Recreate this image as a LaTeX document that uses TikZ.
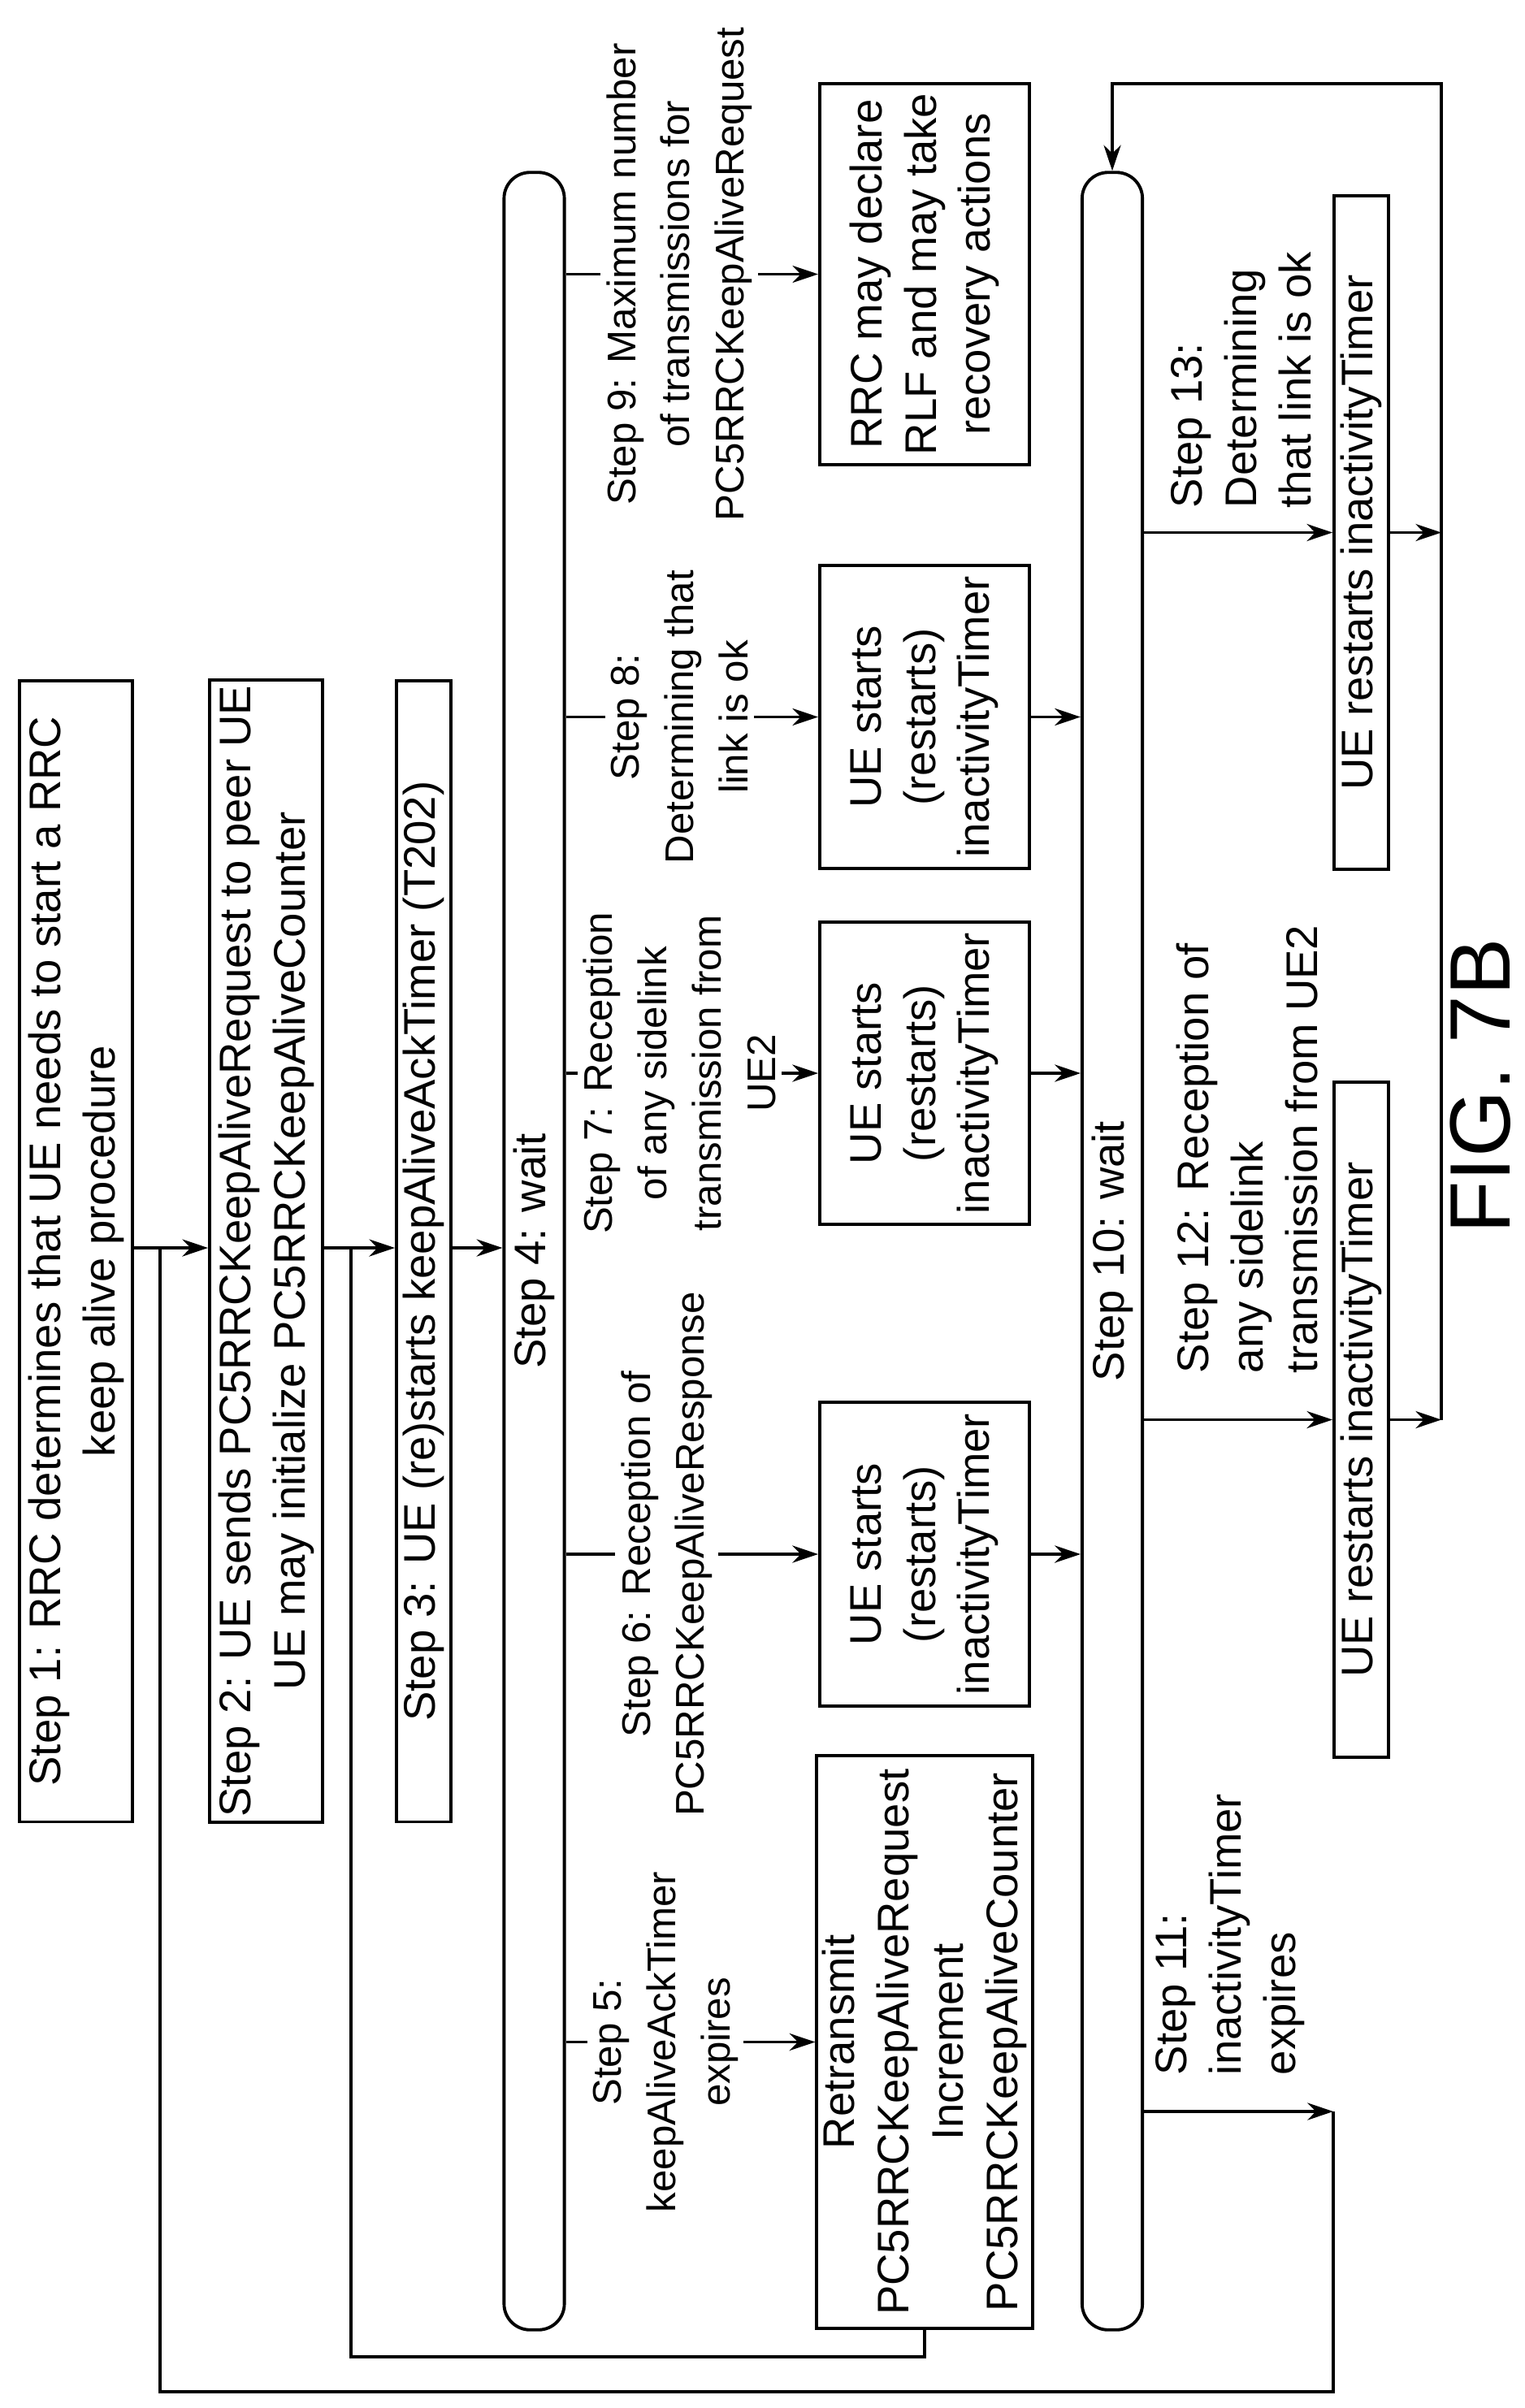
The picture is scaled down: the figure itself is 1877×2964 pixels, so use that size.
\documentclass[tikz,border=0pt]{standalone}
\usepackage{fontspec}
\setmainfont{Liberation Sans}
\usetikzlibrary{arrows.meta, positioning, calc}

\begin{document}
\begin{tikzpicture}[
  x=0.01cm, y=-0.01cm,
  line width=1.1pt,
  every node/.style={font=\fontsize{15.5}{19}\selectfont},
  stepbox/.style={rectangle, draw, rotate=90, align=center, inner sep=2pt, minimum height=#1},
  waitbar/.style={rectangle, draw, rotate=90, rounded corners=0.32cm, minimum height=0.65cm, minimum width=26.54cm},
  steplabel/.style={rotate=90, align=center, fill=white, inner sep=2pt, font=\fontsize{14}{19}\selectfont},
  sidelabel/.style={rotate=90, align=left, anchor=west, inner sep=0pt},
  arr/.style={-{Stealth[length=9pt, width=6pt]}},
]
\useasboundingbox (0,0) rectangle (1877,2964);

% Left column: steps 1 to 3
\node[stepbox=1.39cm, minimum width=14.04cm] (s1) at (93.5,1540) {Step 1: RRC determines that UE needs to start a RRC\\keep alive procedure};
\node[stepbox=1.39cm, minimum width=14.04cm] (s2) at (327.5,1540) {Step 2: UE sends PC5RRCKeepAliveRequest to peer UE\\UE may initialize PC5RRCKeepAliveCounter};
\node[stepbox=0.67cm, minimum width=14.04cm] (s3) at (521.5,1540) {Step 3: UE (re)starts keepAliveAckTimer (T202)};

% Wait bars
\node[waitbar] (s4) at (657.5,1540) {Step 4: wait};
\node[waitbar] (s10) at (1369,1540) {Step 10: wait};

% Middle column
\node[stepbox=2.58cm, minimum width=4.69cm] (b9) at (1138,337.5) {RRC may declare\\RLF and may take\\recovery actions};
\node[stepbox=2.58cm, minimum width=3.73cm] (b8) at (1138,882.5) {UE starts\\(restarts)\\inactivityTimer};
\node[stepbox=2.58cm, minimum width=3.72cm] (b7) at (1138,1321) {UE starts\\(restarts)\\inactivityTimer};
\node[stepbox=2.58cm, minimum width=3.74cm] (b6) at (1138,1913) {UE starts\\(restarts)\\inactivityTimer};
\node[stepbox=2.58cm, minimum width=7.05cm] (b5) at (1138,2513.5) {Retransmit\\PC5RRCKeepAliveRequest\\Increment\\PC5RRCKeepAliveCounter};

% Right column
\node[stepbox=0.67cm, minimum width=8.29cm] (u13) at (1675.5,655.5) {UE restarts inactivityTimer};
\node[stepbox=0.67cm, minimum width=8.31cm] (u12) at (1675.5,1747.5) {UE restarts inactivityTimer};

\coordinate (lvl) at (0,1536);
\coordinate (c11) at (1641,2599);
\coordinate (loopA) at (197,2944);
\coordinate (loopB) at (432,2901);
\coordinate (rtop) at (1774,103);

% Flow through steps 1-4
\draw[arr] (s1.south |- lvl) -- (s2.north |- lvl);
\draw[arr] (s2.south |- lvl) -- (s3.north |- lvl);
\draw[arr] (s3.south |- lvl) -- (s4.north |- lvl);

% Branches out of step 4
\draw[arr] (s4.south |- b9.center) -- node[steplabel, pos=0.45] {Step 9: Maximum number\\of transmissions for\\PC5RRCKeepAliveRequest} (b9);
\draw[arr] (s4.south |- b8.center) -- node[steplabel, pos=0.45] {Step 8:\\Determining that\\link is ok} (b8);
\draw[arr] (s4.south |- b7.center) -- node[steplabel, pos=0.45] {Step 7: Reception\\of any sidelink\\transmission from\\UE2} (b7);
\draw[arr] (s4.south |- b6.center) -- node[steplabel, pos=0.4] {Step 6: Reception of\\PC5RRCKeepAliveResponse} (b6);
\draw[arr] (s4.south |- b5.center) -- node[steplabel, pos=0.4] {Step 5:\\keepAliveAckTimer\\expires} (b5);

\draw[arr] (b8) -- (s10.north |- b8.center);
\draw[arr] (b7) -- (s10.north |- b7.center);
\draw[arr] (b6) -- (s10.north |- b6.center);

% Retransmission loop back to step 3
\draw (b5.west) |- (loopB) -- (loopB |- lvl);

% Branches out of step 10
\draw[arr] (s10.south |- u13.center) -- (u13);
\draw[arr] (s10.south |- u12.center) -- (u12);
\draw[arr] (s10.south |- c11) -- (c11);
\node[sidelabel] (l13) at (1528,627) {Step 13:\\Determining\\that link is ok};
\node[sidelabel] (l12) at (1535,1692) {Step 12: Reception of\\any sidelink\\transmission from UE2};
\node[sidelabel] (l11) at (1514,2556) {Step 11:\\inactivityTimer\\expires};

\draw[arr] (u13) -- (rtop |- u13.center);
\draw[arr] (u12) -- (rtop |- u12.center);
\draw[arr] (rtop |- u12.center) -- (rtop) -| (s10.east);

% Timer expiry loop back to step 2
\draw (c11) |- (loopA) -- (loopA |- lvl);

\node[rotate=90, font=\fontsize{30}{32}\selectfont] (fig) at (1822,1337) {FIG. 7B};
\end{tikzpicture}
\end{document}
